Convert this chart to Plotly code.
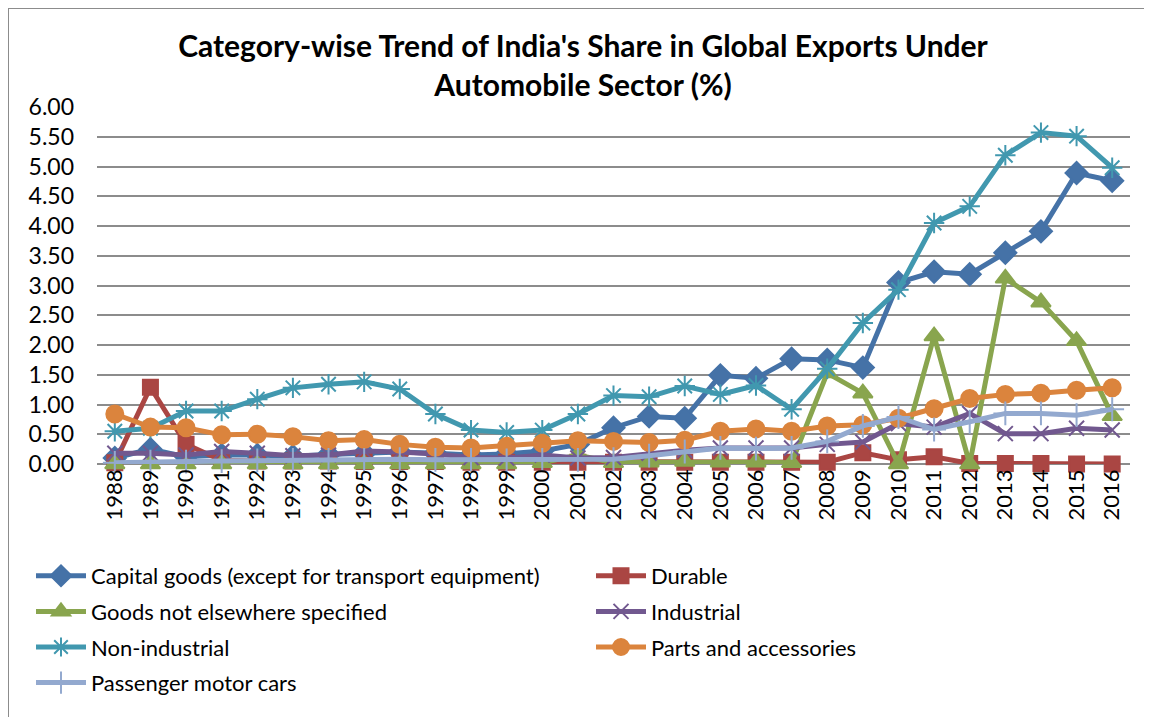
import plotly.graph_objects as go

# years on the category axis
years = [str(y) for y in range(1988, 2017)]

# India's share in global exports (%)
capital_goods = [0.10, 0.25, 0.12, 0.15, 0.15, 0.13, 0.16, 0.18, 0.20, 0.18, 0.15, 0.17, 0.22, 0.33,
                 0.61, 0.80, 0.77, 1.49, 1.44, 1.77, 1.75, 1.62, 3.05, 3.23, 3.19, 3.55, 3.91, 4.89, 4.76]
durable = [0.02, 1.29, 0.33, 0.06, 0.05, 0.05, 0.05, 0.04, 0.04, 0.04, 0.03, 0.03, 0.03, 0.03,
           0.03, 0.03, 0.03, 0.03, 0.03, 0.03, 0.03, 0.19, 0.07, 0.12, 0.01, 0.01, 0.01, 0.00, 0.00]
goods_nes = [0.00, 0.00, 0.00, 0.00, 0.00, 0.00, 0.00, 0.00, 0.00, 0.00, 0.00, 0.00, 0.02, 0.15,
             0.02, 0.03, 0.04, 0.03, 0.03, 0.02, 1.53, 1.19, 0.00, 2.15, 0.00, 3.12, 2.72, 2.07, 0.81]
industrial = [0.18, 0.18, 0.15, 0.21, 0.18, 0.14, 0.15, 0.22, 0.20, 0.17, 0.11, 0.10, 0.15, 0.10,
              0.11, 0.18, 0.23, 0.27, 0.27, 0.27, 0.33, 0.37, 0.68, 0.62, 0.85, 0.51, 0.51, 0.60, 0.57]
non_industrial = [0.55, 0.60, 0.89, 0.89, 1.09, 1.28, 1.34, 1.38, 1.26, 0.84, 0.57, 0.53, 0.57, 0.84,
                  1.15, 1.13, 1.31, 1.17, 1.32, 0.92, 1.60, 2.37, 2.93, 4.05, 4.33, 5.19, 5.57, 5.51, 4.98]
parts = [0.84, 0.62, 0.61, 0.49, 0.50, 0.46, 0.39, 0.41, 0.33, 0.28, 0.27, 0.30, 0.35, 0.39,
         0.38, 0.36, 0.40, 0.55, 0.59, 0.55, 0.64, 0.66, 0.77, 0.93, 1.10, 1.17, 1.19, 1.24, 1.28]
passenger_cars = [0.02, 0.04, 0.04, 0.05, 0.06, 0.07, 0.07, 0.07, 0.08, 0.07, 0.07, 0.06, 0.07, 0.07,
                  0.08, 0.14, 0.21, 0.27, 0.26, 0.27, 0.38, 0.64, 0.79, 0.58, 0.71, 0.85, 0.85, 0.82, 0.92]

# name, values, colour, marker, size, legend column
series = [
    ("Capital goods (except for transport equipment)", capital_goods, "#4572A7", "diamond", 17, "legend"),
    ("Durable", durable, "#AA4643", "square", 15, "legend2"),
    ("Goods not elsewhere specified", goods_nes, "#89A54E", "triangle-up", 17, "legend"),
    ("Industrial", industrial, "#71588F", "x-thin-open", 15, "legend2"),
    ("Non-industrial", non_industrial, "#4198AF", "asterisk-open", 17, "legend"),
    ("Parts and accessories", parts, "#DB843D", "circle", 17, "legend2"),
    ("Passenger motor cars", passenger_cars, "#93A9CF", "cross-thin-open", 17, "legend"),
]

fig = go.Figure()
for name, vals, col, sym, sz, leg in series:
    fig.add_trace(go.Scatter(
        x=years, y=vals, name=name, mode="lines+markers", legend=leg, legendgroup=name,
        line=dict(color=col, width=5),
        marker=dict(symbol=sym, size=sz, color=col, line=dict(color=col, width=2)),
        cliponaxis=False))

# page has an 8px body margin, so figure px = page px - 8
W, H = 1152, 717
L, R, T, B = 89, 30, 99, 261
pw, ph = W - L - R, H - T - B


def px_x(page_x):
    return (page_x - 8 - L) / pw


def px_y(page_y):
    return (H - B - (page_y - 8)) / ph


leg_common = dict(orientation="v", xanchor="left", yanchor="top", font=dict(size=22),
                  itemwidth=50, tracegroupgap=4, bgcolor="rgba(0,0,0,0)")

fig.update_layout(
    width=W, height=H,
    margin=dict(l=L, r=R, t=T, b=B),
    paper_bgcolor="white", plot_bgcolor="white",
    font=dict(family="Lato, Open Sans, sans-serif", size=22, color="black"),
    title=dict(text="<b>Category-wise Trend of India's Share in Global Exports Under<br>Automobile Sector (%)</b>",
               x=575 / W, xanchor="center", y=1 - 49 / H, yanchor="middle",
               font=dict(size=30, color="black")),
    xaxis=dict(type="category", range=[-0.5, 28.5], tickangle=-90, showgrid=False,
               showline=False, ticks="", tickfont=dict(size=22)),
    yaxis=dict(range=[0, 6], dtick=0.5, tickformat=".2f", showgrid=True,
               gridcolor="#8c8c8c", gridwidth=1.5, zeroline=True, zerolinecolor="#8c8c8c",
               zerolinewidth=1.5, showline=False, ticks="", tickfont=dict(size=23),
               ticklabelstandoff=22),
    legend=dict(x=px_x(31), y=px_y(555), **leg_common),
    legend2=dict(x=px_x(591), y=px_y(555), **leg_common),
    shapes=[dict(type="rect", xref="paper", yref="paper",
                 x0=px_x(8), x1=px_x(1160), y0=px_y(725), y1=px_y(8),
                 line=dict(color="#8c8c8c", width=2), fillcolor="rgba(0,0,0,0)")],
)

fig.write_html("out.html")
